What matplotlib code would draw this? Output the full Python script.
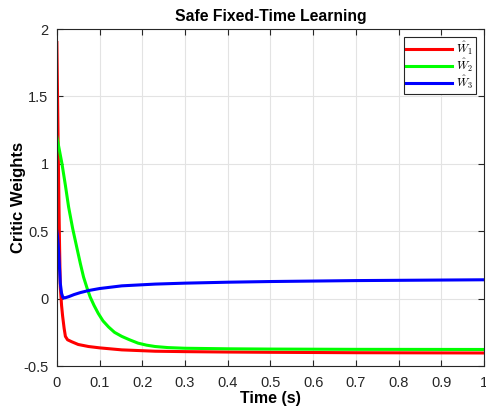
import numpy as np
import matplotlib
matplotlib.use('Agg')
import matplotlib.pyplot as plt

plt.rcParams['font.family'] = ['Liberation Sans', 'DejaVu Sans']
plt.rcParams['mathtext.fontset'] = 'cm'

# values
t_w1 = [0.0, 0.002, 0.004, 0.006, 0.008, 0.011, 0.0135, 0.017, 0.02, 0.025,
        0.035, 0.05, 0.074, 0.1, 0.152, 0.23, 0.3, 0.4, 0.5, 0.7, 1.0]
w1 = [1.9, 1.4, 0.9, 0.45, 0.09, -0.05, -0.13, -0.22, -0.28, -0.305,
      -0.32, -0.34, -0.355, -0.365, -0.38, -0.39, -0.393, -0.396, -0.398, -0.401, -0.403]

t_w2 = [0.0, 0.006, 0.012, 0.02, 0.0275, 0.037, 0.047, 0.055, 0.0625, 0.07, 0.078,
        0.087, 0.097, 0.108, 0.121, 0.135, 0.152, 0.17, 0.19, 0.21, 0.23, 0.26,
        0.3, 0.4, 0.5, 0.7, 1.0]
w2 = [1.2, 1.1, 1.0, 0.84, 0.68, 0.52, 0.375, 0.26, 0.16, 0.085, 0.012,
      -0.05, -0.11, -0.165, -0.21, -0.25, -0.28, -0.305, -0.33, -0.345, -0.355, -0.363,
      -0.368, -0.372, -0.374, -0.376, -0.377]

t_w3 = [0.0, 0.002, 0.004, 0.006, 0.008, 0.011, 0.014, 0.016, 0.02, 0.028, 0.04,
        0.055, 0.074, 0.1, 0.152, 0.23, 0.3, 0.4, 0.5, 0.7, 1.0]
w3 = [0.5, 0.45, 0.36, 0.24, 0.115, 0.04, 0.01, 0.005, 0.007, 0.015, 0.03,
      0.045, 0.06, 0.075, 0.095, 0.108, 0.115, 0.122, 0.127, 0.134, 0.14]

grey = '#262626'

fig = plt.figure(figsize=(4.86, 4.09), dpi=100)
ax = fig.add_axes([0.117, 0.105, 0.879, 0.824])

ax.plot(t_w1, w1, color='#ff0000', lw=2.2, label=r'$\hat{W}_1$')
ax.plot(t_w2, w2, color='#00ff00', lw=2.2, label=r'$\hat{W}_2$')
ax.plot(t_w3, w3, color='#0000ff', lw=2.2, label=r'$\hat{W}_3$')

ax.set_xlim(0, 1)
ax.set_ylim(-0.5, 2)
ax.set_xticks(np.arange(0, 1.01, 0.1))
ax.set_xticklabels(['0', '0.1', '0.2', '0.3', '0.4', '0.5', '0.6', '0.7', '0.8', '0.9', '1'])
ax.set_yticks([-0.5, 0, 0.5, 1, 1.5, 2])
ax.set_yticklabels(['-0.5', '0', '0.5', '1', '1.5', '2'])
ax.grid(True, color='#e3e3e3', lw=0.8)
ax.set_axisbelow(True)
ax.tick_params(direction='in', top=True, right=True, length=4, width=0.8,
               colors=grey, labelsize=10.5, labelcolor=grey)
ax.tick_params(axis='x', pad=7)
ax.tick_params(axis='y', pad=6)
for s in ax.spines.values():
    s.set_color(grey)
    s.set_linewidth(0.8)

ax.set_title('Safe Fixed-Time Learning', fontsize=11.3, fontweight='bold', pad=6)
ax.set_xlabel('Time (s)', fontsize=11.5, fontweight='bold')
ax.set_ylabel('Critic Weights', fontsize=12, fontweight='bold')
ax.xaxis.set_label_coords(0.5, -0.075)
ax.yaxis.set_label_coords(-0.072, 0.5)

leg = ax.legend(loc='upper right', fontsize=8.5, handlelength=3.9, handletextpad=0.3,
                borderpad=0.2, labelspacing=0.0, fancybox=False, framealpha=1,
                borderaxespad=0.7)
leg.get_frame().set_edgecolor(grey)
leg.get_frame().set_linewidth(0.8)

fig.savefig('out.png', dpi=100)
